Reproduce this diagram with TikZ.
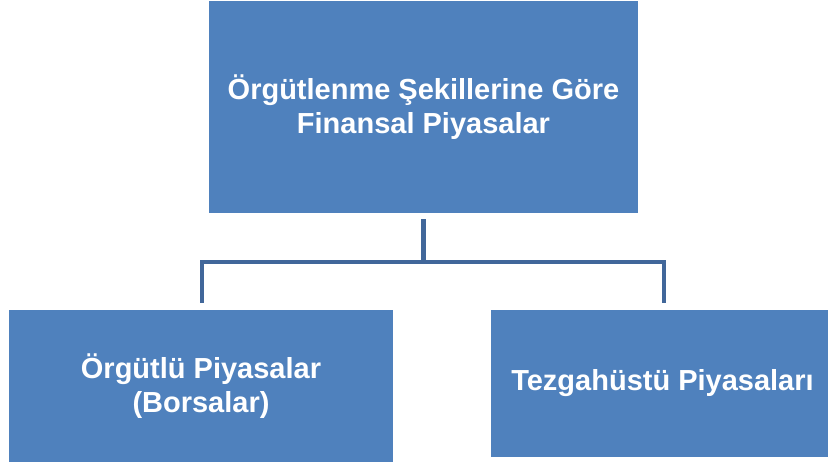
\documentclass[tikz,border=0pt]{standalone}
\usepackage{fontspec}
\setmainfont{Liberation Sans}
\definecolor{boxblue}{HTML}{4F81BD}
\definecolor{linkblue}{HTML}{41679A}
\begin{document}
\begin{tikzpicture}[x=1pt,y=-1pt,
  box/.style={fill=boxblue, draw=none, inner sep=0pt, align=center,
    text=white, font=\fontsize{29}{34}\selectfont\bfseries},
  link/.style={draw=linkblue, line width=4.2pt, line join=miter}]
  \useasboundingbox (0,0) rectangle (828,464);
  \fill[white] (0,0) rectangle (828,464);

  % top-level box
  \node[box, minimum width=429pt, minimum height=212pt] (root) at (423.5,107)
    {Örgütlenme Şekillerine Göre\\Finansal Piyasalar};

  % the two kinds of markets
  \node[box, minimum width=384pt, minimum height=152pt] (org) at (201,386)
    {Örgütlü Piyasalar\\(Borsalar)};
  \node[box, minimum width=343pt, minimum height=147pt] (otc) at (662.5,383.5)
    {Tezgahüstü Piyasaları};

  % tree connectors
  \coordinate (fork) at ([yshift=-49pt]root.south);
  \draw[link] ([yshift=-6pt]root.south) -- (fork);
  \draw[link] ([xshift=1pt,yshift=7pt]org.north) |- (fork);
  \draw[link] ([xshift=1.5pt,yshift=7pt]otc.north) |- (fork);
\end{tikzpicture}
\end{document}
